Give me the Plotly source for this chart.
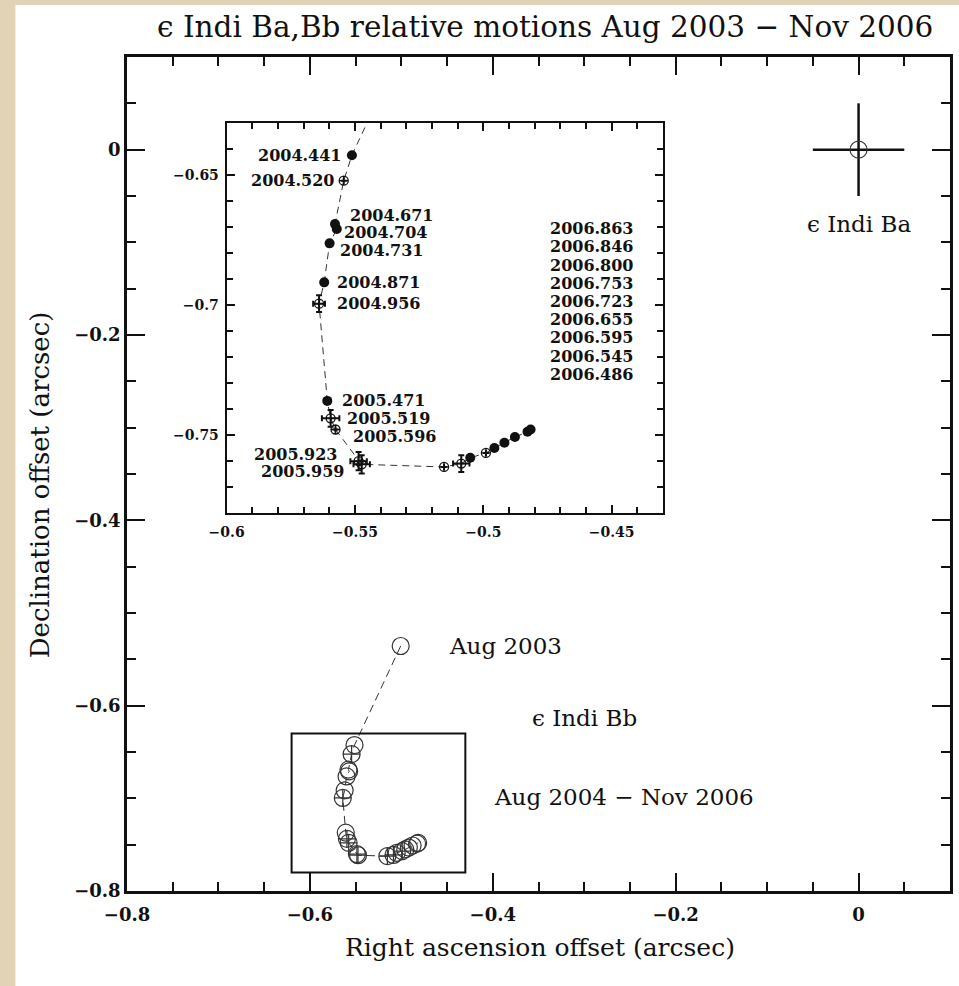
import plotly.graph_objects as go

# ---------------- data ----------------
epochs = ["2004.441", "2004.520", "2004.671", "2004.704", "2004.731", "2004.871", "2004.956",
          "2005.471", "2005.519", "2005.596", "2005.923", "2005.959",
          "2006.486", "2006.545", "2006.595", "2006.655", "2006.723", "2006.753",
          "2006.800", "2006.846", "2006.863"]
ra_off = [-0.5512, -0.5544, -0.5578, -0.5571, -0.5599, -0.5620, -0.5640,
          -0.5608, -0.5595, -0.5576, -0.5486, -0.5474,
          -0.5153, -0.5086, -0.5051, -0.4990, -0.4957, -0.4918,
          -0.4877, -0.4828, -0.4816]
dec_off = [-0.6425, -0.6523, -0.6690, -0.6709, -0.6764, -0.6914, -0.6996,
           -0.7370, -0.7437, -0.7480, -0.7602, -0.7614,
           -0.7624, -0.7611, -0.7589, -0.7570, -0.7551, -0.7531,
           -0.7509, -0.7489, -0.7480]
ra_err = [0.0, 0.0, 0.0, 0.0, 0.0, 0.0, 0.0023,
          0.0, 0.0034, 0.0, 0.0032, 0.0032,
          0.0, 0.0032, 0.0, 0.0, 0.0, 0.0, 0.0, 0.0, 0.0]
dec_err = [0.0, 0.0, 0.0, 0.0, 0.0, 0.0, 0.0032,
           0.0, 0.0032, 0.0, 0.0035, 0.0035,
           0.0, 0.0032, 0.0, 0.0, 0.0, 0.0, 0.0, 0.0, 0.0]
filled = [True, False, True, True, True, True, False,
          True, False, False, False, False,
          False, False, True, False, True, True, True, True, True]

aug2003_ra, aug2003_dec = -0.5007, -0.5356
ba_ra, ba_dec, ba_err = 0.0, 0.0, 0.05

# label placement (anchor side, x shift px, y shift px) for inset point labels
label_side = {"2004.441": ("right", -8, 0), "2004.520": ("right", -7, 0),
              "2004.671": ("left", 13, 9), "2004.704": ("left", 5, -3),
              "2004.731": ("left", 8, -7), "2004.871": ("left", 11, 0),
              "2004.956": ("left", 16, 0), "2005.471": ("left", 13, 0),
              "2005.519": ("left", 14, 0), "2005.596": ("left", 16, -7),
              "2005.923": ("right", -19, 7), "2005.959": ("right", -15, -7)}
col_2006 = ["2006.863", "2006.846", "2006.800", "2006.753", "2006.723",
            "2006.655", "2006.595", "2006.545", "2006.486"]

FONT = "DejaVu Serif"
INK = "#111111"

fig = go.Figure()

# ---- main panel: eps Indi Bb track ----
main_x = [aug2003_ra] + ra_off
main_y = [aug2003_dec] + dec_off
fig.add_trace(go.Scatter(
    x=main_x, y=main_y, mode="lines+markers",
    line=dict(color="#333333", width=1, dash="8px,5px"),
    marker=dict(symbol=["circle-open"] + ["circle-open" if f else "circle-cross-open" for f in filled],
                size=17, color="#333333", line=dict(width=1.2)),
    xaxis="x", yaxis="y", showlegend=False, hoverinfo="skip"))

# eps Indi Ba
fig.add_trace(go.Scatter(
    x=[ba_ra], y=[ba_dec], mode="markers",
    marker=dict(symbol="circle-open", size=17, color="#333333", line=dict(width=1.2)),
    error_x=dict(type="constant", value=ba_err, color=INK, thickness=2.5, width=0),
    error_y=dict(type="constant", value=ba_err, color=INK, thickness=2.5, width=0),
    xaxis="x", yaxis="y", showlegend=False, hoverinfo="skip"))

# ---- inset ----
fig.add_trace(go.Scatter(
    x=main_x, y=main_y, mode="lines",
    line=dict(color="#333333", width=1, dash="7px,5px"),
    xaxis="x2", yaxis="y2", showlegend=False, hoverinfo="skip"))

fx = [x for x, f in zip(ra_off, filled) if f]
fy = [y for y, f in zip(dec_off, filled) if f]
fig.add_trace(go.Scatter(
    x=fx, y=fy, mode="markers",
    marker=dict(symbol="circle", size=10, color=INK),
    xaxis="x2", yaxis="y2", showlegend=False, hoverinfo="skip"))

ox = [x for x, f in zip(ra_off, filled) if not f]
oy = [y for y, f in zip(dec_off, filled) if not f]
oex = [e for e, f in zip(ra_err, filled) if not f]
oey = [e for e, f in zip(dec_err, filled) if not f]
fig.add_trace(go.Scatter(
    x=ox, y=oy, mode="markers",
    marker=dict(symbol="circle-cross-open", size=9, color=INK, line=dict(width=1.3)),
    error_x=dict(type="data", array=oex, color=INK, thickness=2, width=3),
    error_y=dict(type="data", array=oey, color=INK, thickness=2, width=3),
    xaxis="x2", yaxis="y2", showlegend=False, hoverinfo="skip"))

annotations = []
lab_font = dict(family=FONT, size=16, color=INK, weight="bold")
for ep, x, y in zip(epochs, ra_off, dec_off):
    if ep in label_side:
        side, dx, dy = label_side[ep]
        annotations.append(dict(x=x, y=y, xref="x2", yref="y2", text=ep, showarrow=False,
                                xanchor=side, yanchor="middle", xshift=dx, yshift=dy,
                                font=lab_font))
for i, ep in enumerate(col_2006):
    annotations.append(dict(x=-0.4747, y=-0.6708, xref="x2", yref="y2", text=ep,
                            showarrow=False, xanchor="left", yanchor="middle",
                            xshift=0, yshift=-18.2 * i, font=lab_font))

big = dict(family=FONT, size=23, color=INK)
annotations += [
    dict(x=aug2003_ra, y=aug2003_dec, xref="x", yref="y", text="Aug 2003", showarrow=False,
         xanchor="left", yanchor="middle", xshift=46, font=big),
    dict(x=-0.300, y=-0.6133, xref="x", yref="y", text="ϵ Indi Bb", showarrow=False,
         xanchor="center", yanchor="middle", font=big),
    dict(x=-0.4012, y=-0.6985, xref="x", yref="y", text="Aug 2004 − Nov 2006", showarrow=False,
         xanchor="left", yanchor="middle", font=big),
    dict(x=ba_ra, y=ba_dec, xref="x", yref="y", text="ϵ Indi Ba", showarrow=False,
         xanchor="center", yanchor="middle", yshift=-74, font=big),
    dict(x=0.508, y=1.036, xref="paper", yref="paper",
         text="ϵ Indi Ba,Bb relative motions Aug 2003 − Nov 2006", showarrow=False,
         xanchor="center", yanchor="middle", font=dict(family=FONT, size=29.5, color=INK)),
    dict(x=0.502, y=-0.0683, xref="paper", yref="paper",
         text="Right ascension offset (arcsec)", showarrow=False,
         xanchor="center", yanchor="middle", font=dict(family=FONT, size=25, color=INK)),
    dict(x=-0.1053, y=0.4868, xref="paper", yref="paper",
         text="Declination offset (arcsec)", showarrow=False, textangle=-90,
         xanchor="center", yanchor="middle", font=dict(family=FONT, size=26, color=INK)),
]

shapes = [
    # box marking the inset region on the main panel
    dict(type="rect", xref="x", yref="y", x0=-0.62, x1=-0.43, y0=-0.78, y1=-0.63,
         line=dict(color=INK, width=2), fillcolor="rgba(0,0,0,0)"),
    # beige page border strips
    dict(type="rect", xref="paper", yref="paper", x0=-0.16, x1=-0.1356, y0=-0.2, y1=1.2,
         line=dict(width=0), fillcolor="#E3D3B6", layer="above"),
    dict(type="rect", xref="paper", yref="paper", x0=-0.16, x1=1.1, y0=1.0624, y1=1.2,
         line=dict(width=0), fillcolor="#E3D3B6", layer="above"),
]

axis_common = dict(showgrid=False, zeroline=False, showline=True, linecolor=INK, mirror="allticks",
                   ticks="inside", tickcolor=INK)
tick_main = dict(family=FONT, size=18, color=INK, weight="bold")
tick_inset = dict(family=FONT, size=14, color=INK, weight="bold")

fig.update_layout(
    width=959, height=986,
    margin=dict(l=127, r=6, t=57, b=95),
    paper_bgcolor="white", plot_bgcolor="white",
    showlegend=False,
    xaxis=dict(**axis_common, range=[-0.8, 0.1], dtick=0.2, tick0=0, ticklen=18, tickwidth=2,
               linewidth=2.5, tickfont=tick_main, ticklabelstandoff=6,
               minor=dict(dtick=0.05, ticklen=9, tickwidth=2, ticks="inside", tickcolor=INK),
               domain=[0, 1], anchor="y"),
    yaxis=dict(**axis_common, range=[-0.8, 0.1], dtick=0.2, tick0=0, ticklen=18, tickwidth=2,
               linewidth=2.5, tickfont=tick_main,
               minor=dict(dtick=0.05, ticklen=9, tickwidth=2, ticks="inside", tickcolor=INK),
               domain=[0, 1], anchor="x"),
    xaxis2=dict(**axis_common, range=[-0.6, -0.43], dtick=0.05, tick0=0, ticklen=8, tickwidth=1.5,
                linewidth=2, tickfont=tick_inset, ticklabelstandoff=6,
                minor=dict(dtick=0.01, ticklen=6, tickwidth=1.5, ticks="inside", tickcolor=INK),
                domain=[0.1211, 0.6513], anchor="y2"),
    yaxis2=dict(**axis_common, range=[-0.78, -0.63], dtick=0.05, tick0=0, ticklen=8, tickwidth=1.5,
                linewidth=2, tickfont=tick_inset, ticklabelstandoff=3,
                minor=dict(dtick=0.01, ticklen=6, tickwidth=1.5, ticks="inside", tickcolor=INK),
                domain=[0.4536, 0.9212], anchor="x2"),
    annotations=annotations, shapes=shapes,
)

fig.write_html("out.html")
